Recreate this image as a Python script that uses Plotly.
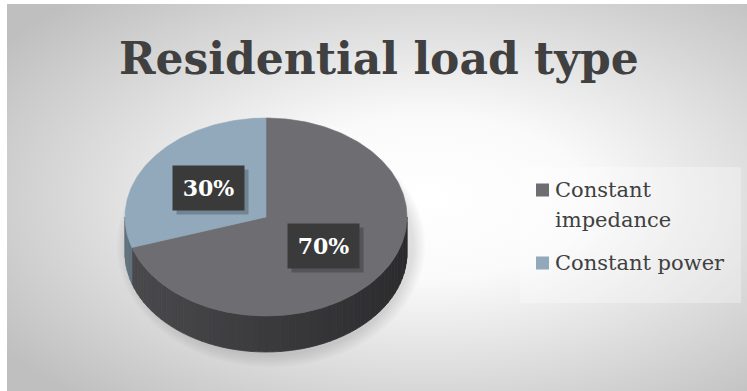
import base64
import numpy as np
import plotly.graph_objects as go

# ---- data ----
labels = ["Constant impedance", "Constant power"]
legend_lines = [["Constant", "impedance"], ["Constant power"]]
values = [70, 30]
colors = ["#6e6d72", "#91a9bb"]
title = "Residential load type"

# ---- canvas / pie geometry (pixel units) ----
W, H = 747, 391
CX, CY, RX, RY, DEPTH = 266, 217, 141, 99, 36
START = 90  # first slice starts at 12 o'clock, runs clockwise


def hex_rgb(h):
    h = h.lstrip("#")
    return tuple(int(h[i:i + 2], 16) for i in (0, 2, 4))


def shade(h, f):
    r, g, b = hex_rgb(h)
    return "rgb(%d,%d,%d)" % (r * f, g * f, b * f)


def ell(theta, dy=0.0):
    t = np.radians(theta)
    return CX + RX * np.cos(t), CY - RY * np.sin(t) + dy


fig = go.Figure()

total = float(sum(values))
bounds = []
acc = 0.0
for v in values:
    a0 = START - acc / total * 360.0
    acc += v
    a1 = START - acc / total * 360.0
    bounds.append((a1, a0))

# side walls: visible on the lower half of the ellipse (sin < 0)
for (a1, a0), col in zip(bounds, colors):
    for k in range(-2, 2):
        lo = max(a1, -180 + 360 * k)
        hi = min(a0, 0 + 360 * k)
        if hi <= lo:
            continue
        n = int(np.ceil((hi - lo) / 3.0)) + 1
        ts = np.linspace(lo, hi, n)
        for t0, t1 in zip(ts[:-1], ts[1:]):
            arc = np.linspace(t0, t1, 4)
            xt, yt = ell(arc)
            xb, yb = ell(arc[::-1], DEPTH)
            xs = np.concatenate([xt, xb, xt[:1]])
            ys = np.concatenate([yt, yb, yt[:1]])
            f = 0.54 - 0.14 * np.cos(np.radians((t0 + t1) / 2))
            c = shade(col, f)
            fig.add_trace(go.Scatter(
                x=xs, y=ys, mode="lines", fill="toself", fillcolor=c,
                line=dict(color=c, width=0.8), hoverinfo="skip",
                showlegend=False))

# top faces
for (a1, a0), col, lab, v in zip(bounds, colors, labels, values):
    arc = np.linspace(a0, a1, int(abs(a0 - a1)) + 2)
    xa, ya = ell(arc)
    xs = np.concatenate([[CX], xa, [CX]])
    ys = np.concatenate([[CY], ya, [CY]])
    fig.add_trace(go.Scatter(
        x=xs, y=ys, mode="lines", fill="toself", fillcolor=col,
        line=dict(color=col, width=0.6), name=lab,
        hovertemplate="%s: %d%%<extra></extra>" % (lab, v),
        showlegend=False))

# soft drop shadow beneath the pie
shapes = []
for i in range(6):
    g = 12 - 2.2 * i
    shapes.append(dict(
        type="circle", xref="x", yref="y", layer="below",
        x0=CX - RX - g + 4, x1=CX + RX + g + 6,
        y0=CY - RY - g + DEPTH * 0.5, y1=CY + RY + g + DEPTH + 3,
        fillcolor="rgba(0,0,0,0.018)", line=dict(width=0)))

annotations = []

# percentage labels on dark tiles
for (a1, a0), v in zip(bounds, values):
    mid = (a0 + a1) / 2
    t = np.radians(mid)
    lx = CX + 0.5 * RX * np.cos(t)
    ly = CY - 0.5 * RY * np.sin(t)
    txt = "%d%%" % round(v / total * 100)
    annotations.append(dict(
        x=lx, y=ly, xref="x", yref="y", text=" ", showarrow=False,
        width=69, height=42, bgcolor="rgba(0,0,0,0.22)",
        xshift=4, yshift=-4))
    annotations.append(dict(
        x=lx, y=ly, xref="x", yref="y", text=txt, showarrow=False,
        width=69, height=42, bgcolor="#3a3a3b",
        font=dict(family="DejaVu Serif", size=22, color="white",
                  weight="bold")))

# title
annotations.append(dict(
    x=379, y=58, xref="x", yref="y", text=title, showarrow=False,
    font=dict(family="DejaVu Serif", size=44, color="#404040",
              weight="bold")))

# legend panel
shapes.append(dict(type="rect", xref="x", yref="y", layer="below",
                   x0=520, x1=741, y0=167, y1=303,
                   fillcolor="rgba(255,255,255,0.3)", line=dict(width=0)))
row_y = [[190, 220], [263]]
for col, lines, ys in zip(colors, legend_lines, row_y):
    shapes.append(dict(type="rect", xref="x", yref="y", layer="above",
                       x0=536, x1=549, y0=ys[0] - 6.5, y1=ys[0] + 6.5,
                       fillcolor=col, line=dict(width=0)))
    for line, y in zip(lines, ys):
        annotations.append(dict(
            x=553, y=y, xref="x", yref="y", xanchor="left",
            text=line, showarrow=False,
            font=dict(family="DejaVu Serif", size=21, color="#404040")))

# radial-gradient backdrop
svg = (
    "<svg xmlns='http://www.w3.org/2000/svg' width='740' height='387'>"
    "<defs><radialGradient id='g' cx='0.57' cy='0.5' r='0.7'>"
    "<stop offset='0' stop-color='#ffffff'/>"
    "<stop offset='0.3' stop-color='#fafafa'/>"
    "<stop offset='1' stop-color='#bfbfbf'/>"
    "</radialGradient></defs>"
    "<rect width='740' height='387' fill='url(#g)'/></svg>"
)
src = "data:image/svg+xml;base64," + base64.b64encode(svg.encode()).decode()

fig.update_layout(
    width=W, height=H, autosize=False,
    margin=dict(l=0, r=0, t=0, b=0),
    paper_bgcolor="white", plot_bgcolor="rgba(0,0,0,0)",
    xaxis=dict(range=[0, W], visible=False, fixedrange=True),
    yaxis=dict(range=[H, 0], visible=False, fixedrange=True),
    shapes=shapes, annotations=annotations,
    images=[dict(source=src, xref="paper", yref="paper",
                 x=7 / W, y=1 - 4 / H, sizex=740 / W, sizey=387 / H,
                 xanchor="left", yanchor="top", sizing="stretch",
                 layer="below")],
    showlegend=False,
)

fig.write_html("out.html")
